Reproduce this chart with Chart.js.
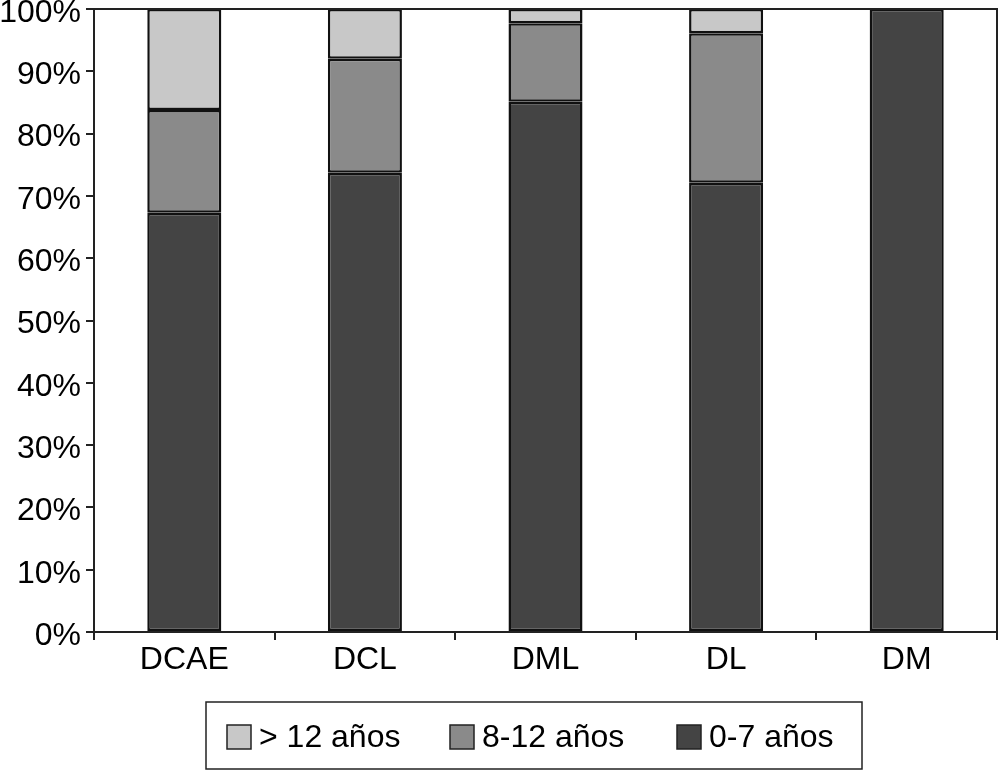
<!DOCTYPE html>
<html><head><meta charset="utf-8">
<script src="https://cdn.jsdelivr.net/npm/chart.js@4"></script>
<style>html,body{margin:0;padding:0;background:#fff}</style></head>
<body><canvas id="c" width="999" height="771"></canvas>
<script>
const categories = ['DCAE', 'DCL', 'DML', 'DL', 'DM'];
const labels0to7 = '0-7 años';
const labels8to12 = '8-12 años';
const labelsOver12 = '> 12 años';
const years0to7 = [67.3, 73.7, 85.1, 72.1, 100];
const years8to12 = [16.5, 18.3, 12.6, 24.0, 0];
const yearsOver12 = [16.2, 8.0, 2.3, 3.9, 0];
const yTickValues = [0, 10, 20, 30, 40, 50, 60, 70, 80, 90, 100];

const FONT = '"Liberation Sans", Arial, Helvetica, sans-serif';
const colDark = '#444444', colMid = '#8a8a8a', colLight = '#c8c8c8';

const framePlugin = {
  id: 'frame',
  afterDraw(chart) {
    const ctx = chart.ctx, a = chart.chartArea;
    ctx.save();
    ctx.strokeStyle = '#222';
    ctx.lineWidth = 2;
    ctx.beginPath();
    ctx.moveTo(a.left - 8, a.top);
    ctx.lineTo(a.right, a.top);
    ctx.lineTo(a.right, a.bottom);
    ctx.stroke();

    // legend
    const bx = 206, by = 702, bw = 656, bh = 67;
    ctx.lineWidth = 1.5;
    ctx.strokeStyle = '#222';
    ctx.strokeRect(bx, by, bw, bh);
    const ds = chart.data.datasets.slice().reverse();
    const starts = [227, 450, 677];
    ctx.font = '32px ' + FONT;
    ctx.textBaseline = 'middle';
    ds.forEach((d, i) => {
      const x = starts[i], y = 737;
      ctx.fillStyle = d.backgroundColor;
      ctx.fillRect(x, y - 12, 24, 24);
      ctx.strokeStyle = '#222';
      ctx.lineWidth = 1.5;
      ctx.strokeRect(x, y - 12, 24, 24);
      ctx.fillStyle = '#000';
      ctx.fillText(d.label, x + 32, y + 1);
    });
    ctx.restore();
  }
};

new Chart(document.getElementById('c'), {
  type: 'bar',
  data: {
    labels: categories,
    datasets: [
      { label: labels0to7, data: years0to7, backgroundColor: colDark },
      { label: labels8to12, data: years8to12, backgroundColor: colMid },
      { label: labelsOver12, data: yearsOver12, backgroundColor: colLight }
    ].map(d => Object.assign(d, {
      borderColor: '#111', borderWidth: 2.5, borderSkipped: false,
      categoryPercentage: 1, barPercentage: 0.41
    }))
  },
  options: {
    responsive: false,
    animation: false,
    devicePixelRatio: 1,
    layout: { padding: { top: 9, right: 2, bottom: 0, left: 0 } },
    plugins: { legend: { display: false }, tooltip: { enabled: false } },
    scales: {
      x: {
        stacked: true,
        grid: { offset: true, drawOnChartArea: false, tickLength: 8, color: '#222', lineWidth: 2 },
        border: { color: '#222', width: 2 },
        ticks: { font: { family: FONT, size: 32 }, color: '#000', padding: 1 },
        afterFit(s) { s.height = 139; s.paddingLeft = 0; s.paddingRight = 0; }
      },
      y: {
        stacked: true,
        min: 0, max: 100,
        afterBuildTicks(s) { s.ticks = yTickValues.map(v => ({ value: v })); },
        grid: { drawOnChartArea: false, tickLength: 8, color: '#222', lineWidth: 2 },
        border: { color: '#222', width: 2 },
        ticks: {
          font: { family: FONT, size: 32 }, color: '#000', padding: 5, labelOffset: 4,
          callback: v => v + '%'
        },
        afterFit(s) { s.width = 94; s.paddingTop = 0; s.paddingBottom = 0; }
      }
    }
  },
  plugins: [framePlugin]
});
</script>
</body></html>
